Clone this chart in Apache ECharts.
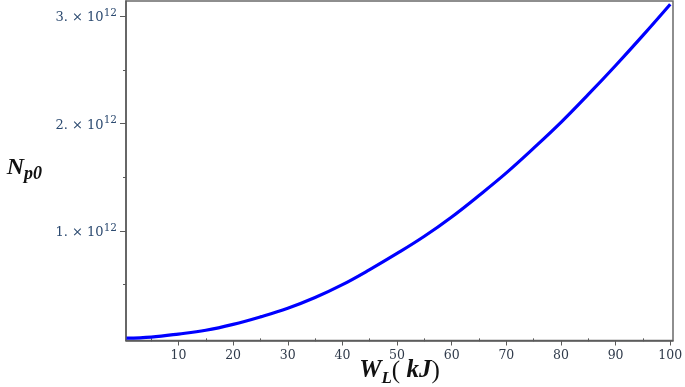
<!DOCTYPE html>
<html>
<head>
<meta charset="utf-8">
<script src="https://cdn.jsdelivr.net/npm/echarts@6/dist/echarts.min.js"></script>
<style>html,body{margin:0;padding:0;background:#fff}#c{width:685px;height:387px}</style>
</head>
<body>
<div id="c"></div>
<script>
// W_L (kJ)
var wL = [0.5, 5, 10, 15, 20, 25, 30, 35, 40, 45, 50, 55, 60, 65, 70, 75, 80, 85, 90, 95, 100];
// N_p0
var np0 = [0.002e12, 0.012e12, 0.04e12, 0.075e12, 0.13e12, 0.20e12, 0.28e12, 0.38e12, 0.50e12, 0.64e12,
           0.79e12, 0.95e12, 1.13e12, 1.33e12, 1.54e12, 1.77e12, 2.01e12, 2.27e12, 2.54e12, 2.82e12, 3.11e12];
var xMajorTicks = [10, 20, 30, 40, 50, 60, 70, 80, 90, 100];
var xMinorTicks = [5, 15, 25, 35, 45, 55, 65, 75, 85, 95];
var yMajorTicks = [1e12, 2e12, 3e12];
var yMinorTicks = [0.5e12, 1.5e12, 2.5e12];

var XMIN = 0.4, XMAX = 100.5, YMIN = -0.02e12, YMAX = 3.14e12;
var axisCol = '#5a5a5a';
var serif = '"DejaVu Serif", serif';
var tserif = '"Liberation Serif", serif';

var chart = echarts.init(document.getElementById('c'), null, {renderer: 'canvas'});
var pts = wL.map(function (x, i) { return [x, np0[i]]; });

chart.setOption({
  animation: false,
  grid: {left: 126, right: 12, top: 1, bottom: 46.5, show: true, borderColor: '#6a6a6a', borderWidth: 1.5, outerBoundsMode: 'none'},
  xAxis: [{
    type: 'value', min: XMIN, max: XMAX, position: 'bottom',
    axisLine: {show: true, onZero: false, lineStyle: {color: axisCol, width: 1.5}},
    axisTick: {show: true, length: 5, customValues: xMajorTicks, lineStyle: {color: axisCol}},
    axisLabel: {customValues: xMajorTicks, margin: 9, color: '#2f3a4a', fontFamily: serif, fontSize: 12.5},
    splitLine: {show: false},
    name: '{w|W}{l|L}{p|(}{k| kJ}{p|)}',
    nameLocation: 'middle', nameGap: 18, nameMoveOverlap: false,
    nameTextStyle: {
      rich: {
        w: {fontFamily: tserif, fontWeight: 'bold', fontStyle: 'italic', fontSize: 25, color: '#111', lineHeight: 22, verticalAlign: 'top'},
        l: {fontFamily: tserif, fontWeight: 'bold', fontStyle: 'italic', fontSize: 17, color: '#111', lineHeight: 22, verticalAlign: 'bottom', padding: [0, 0, -7, 0]},
        p: {fontFamily: tserif, fontSize: 25, color: '#111', lineHeight: 22, verticalAlign: 'top'},
        k: {fontFamily: tserif, fontWeight: 'bold', fontStyle: 'italic', fontSize: 25, color: '#111', lineHeight: 22, verticalAlign: 'top'}
      }
    }
  }, {
    type: 'value', min: XMIN, max: XMAX, position: 'bottom',
    axisLine: {show: false},
    axisTick: {show: true, length: 3, customValues: xMinorTicks, lineStyle: {color: axisCol}},
    axisLabel: {show: false},
    splitLine: {show: false}
  }],
  yAxis: [{
    type: 'value', min: YMIN, max: YMAX, position: 'left',
    axisLine: {show: true, onZero: false, lineStyle: {color: axisCol, width: 1.5}},
    axisTick: {show: true, length: 6, customValues: yMajorTicks, lineStyle: {color: axisCol}},
    axisLabel: {
      customValues: yMajorTicks, margin: 9,
      formatter: function (v) { return '{a|' + Math.round(v / 1e12) + '. \u00d7 10}{s|12}'; },
      rich: {
        a: {fontFamily: serif, fontSize: 13, color: '#2c4a70', lineHeight: 17, verticalAlign: 'bottom'},
        s: {fontFamily: serif, fontSize: 10.5, color: '#2c4a70', lineHeight: 17, verticalAlign: 'top'}
      }
    },
    splitLine: {show: false},
    name: '{n|N}{s|p0}',
    nameLocation: 'middle', nameRotate: 0, nameGap: 84, nameMoveOverlap: false,
    nameTextStyle: {
      padding: [0, 0, 8, 0],
      rich: {
        n: {fontFamily: tserif, fontWeight: 'bold', fontStyle: 'italic', fontSize: 24, color: '#111', lineHeight: 22, verticalAlign: 'top'},
        s: {fontFamily: tserif, fontWeight: 'bold', fontStyle: 'italic', fontSize: 18, color: '#111', lineHeight: 22, verticalAlign: 'bottom', padding: [0, 0, -6, 0]}
      }
    }
  }, {
    type: 'value', min: YMIN, max: YMAX, position: 'left',
    axisLine: {show: false},
    axisTick: {show: true, length: 3, customValues: yMinorTicks, lineStyle: {color: axisCol}},
    axisLabel: {show: false},
    splitLine: {show: false}
  }],
  series: [{
    type: 'line', xAxisIndex: 0, yAxisIndex: 0,
    data: pts, smooth: 0.4, symbol: 'none',
    lineStyle: {color: '#0000ff', width: 3.2}
  }]
});
</script>
</body>
</html>
